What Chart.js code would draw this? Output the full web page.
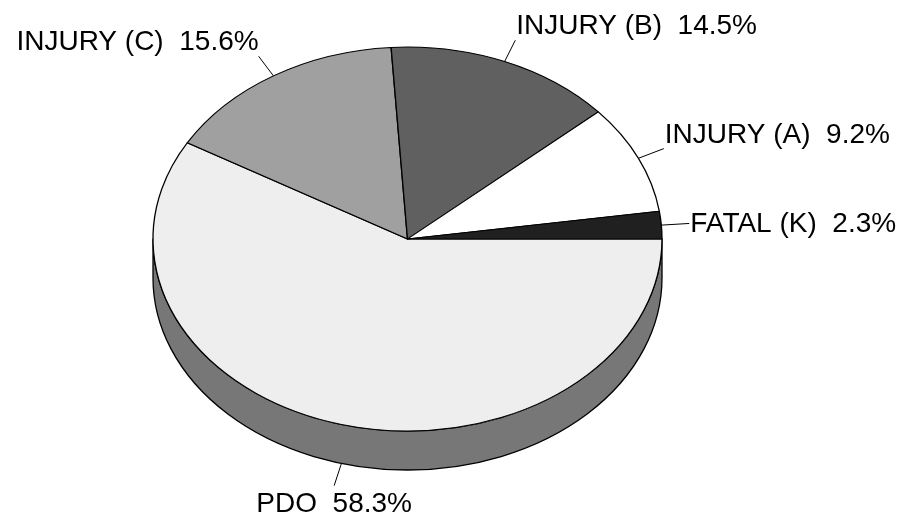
<!DOCTYPE html>
<html><head><meta charset="utf-8">
<script src="https://cdn.jsdelivr.net/npm/chart.js@4/dist/chart.umd.min.js"></script>
<style>html,body{margin:0;padding:0;background:#fff}canvas{display:block}</style>
</head><body>
<canvas id="c" width="899" height="519"></canvas>
<script>
// ---- data ----
const categories = ['PDO', 'INJURY (C)', 'INJURY (B)', 'INJURY (A)', 'FATAL (K)'];
const percentValues = [58.3, 15.6, 14.5, 9.2, 2.3];

// ---- styles ----
const topColors = ['#eeeeee', '#a0a0a0', '#606060', '#ffffff', '#202020'];
const sideColors = ['#777777', '#5a5a5a', '#3a3a3a', '#999999', '#111111'];
const TILT = 192 / 254.5;
const DEPTH = 39;
const LEAD_X = 28, LEAD_Y = 23;
const FONT = '28px "Liberation Sans", Arial, sans-serif';

function geom(chart) {
  const a = chart.getDatasetMeta(0).data[0];
  return { x: a.x, y: a.y, r: a.outerRadius, ry: a.outerRadius * TILT };
}

const pie3d = {
  id: 'pie3d',
  beforeDatasetsDraw(chart) {
    const ctx = chart.ctx;
    const meta = chart.getDatasetMeta(0);
    const { x, y, r, ry } = geom(chart);
    const twoPi = Math.PI * 2;
    meta.data.forEach((arc, i) => {
      let s = arc.startAngle, e = arc.endAngle;
      const off = Math.floor(s / twoPi) * twoPi;
      s -= off; e -= off;
      [[0, Math.PI], [twoPi, twoPi + Math.PI]].forEach(([lo, hi]) => {
        const a1 = Math.max(s, lo), a2 = Math.min(e, hi);
        if (a2 > a1) {
          ctx.save();
          ctx.beginPath();
          ctx.ellipse(x, y, r, ry, 0, a1, a2, false);
          ctx.ellipse(x, y + DEPTH, r, ry, 0, a2, a1, true);
          ctx.closePath();
          ctx.fillStyle = sideColors[i];
          ctx.fill();
          ctx.lineWidth = 1.3;
          ctx.strokeStyle = '#000';
          ctx.lineJoin = 'round';
          ctx.stroke();
          ctx.restore();
        }
      });
    });
    ctx.save();
    ctx.translate(x, y);
    ctx.scale(1, TILT);
    ctx.translate(-x, -y);
  },
  afterDatasetsDraw(chart) {
    chart.ctx.restore();
  },
  afterDraw(chart) {
    const ctx = chart.ctx;
    const meta = chart.getDatasetMeta(0);
    const { x, y, r, ry } = geom(chart);
    ctx.save();
    ctx.font = FONT;
    ctx.fillStyle = '#000';
    meta.data.forEach((arc, i) => {
      const m = (arc.startAngle + arc.endAngle) / 2;
      const c = Math.cos(m), s = Math.sin(m);
      const base = s > 0 ? DEPTH : 0;
      const sx = x + r * c, sy = y + ry * s + base;
      const ex = x + (r + LEAD_X) * c, ey = y + (ry + LEAD_Y) * s + base;
      ctx.beginPath();
      ctx.moveTo(sx, sy);
      ctx.lineTo(ex, ey);
      ctx.lineWidth = 1;
      ctx.strokeStyle = '#000';
      ctx.stroke();
      const text = categories[i] + '  ' + percentValues[i].toFixed(1) + '%';
      ctx.textBaseline = 'alphabetic';
      let tx, ty;
      if (s > 0.3) {
        ctx.textAlign = 'center'; tx = ex; ty = ey + 26;
      } else {
        if (c >= 0) { ctx.textAlign = 'left'; tx = ex + 1; }
        else { ctx.textAlign = 'right'; tx = ex; }
        ty = (s < -0.3) ? ey - 6 : ey + 9;
      }
      ctx.fillText(text, tx, ty);
    });
    ctx.restore();
  }
};

new Chart(document.getElementById('c'), {
  type: 'pie',
  data: {
    labels: categories,
    datasets: [{
      data: percentValues,
      backgroundColor: topColors,
      borderColor: '#000',
      borderWidth: 1.3,
      borderJoinStyle: 'round',
      hoverOffset: 0,
      clip: false
    }]
  },
  options: {
    responsive: false,
    devicePixelRatio: 1,
    animation: false,
    events: [],
    rotation: 90,
    radius: 254.5,
    layout: { padding: { left: 153, right: 237, top: 0, bottom: 41 } },
    plugins: { legend: { display: false }, tooltip: { enabled: false }, title: { display: false } }
  },
  plugins: [pie3d]
});
</script>
</body></html>
